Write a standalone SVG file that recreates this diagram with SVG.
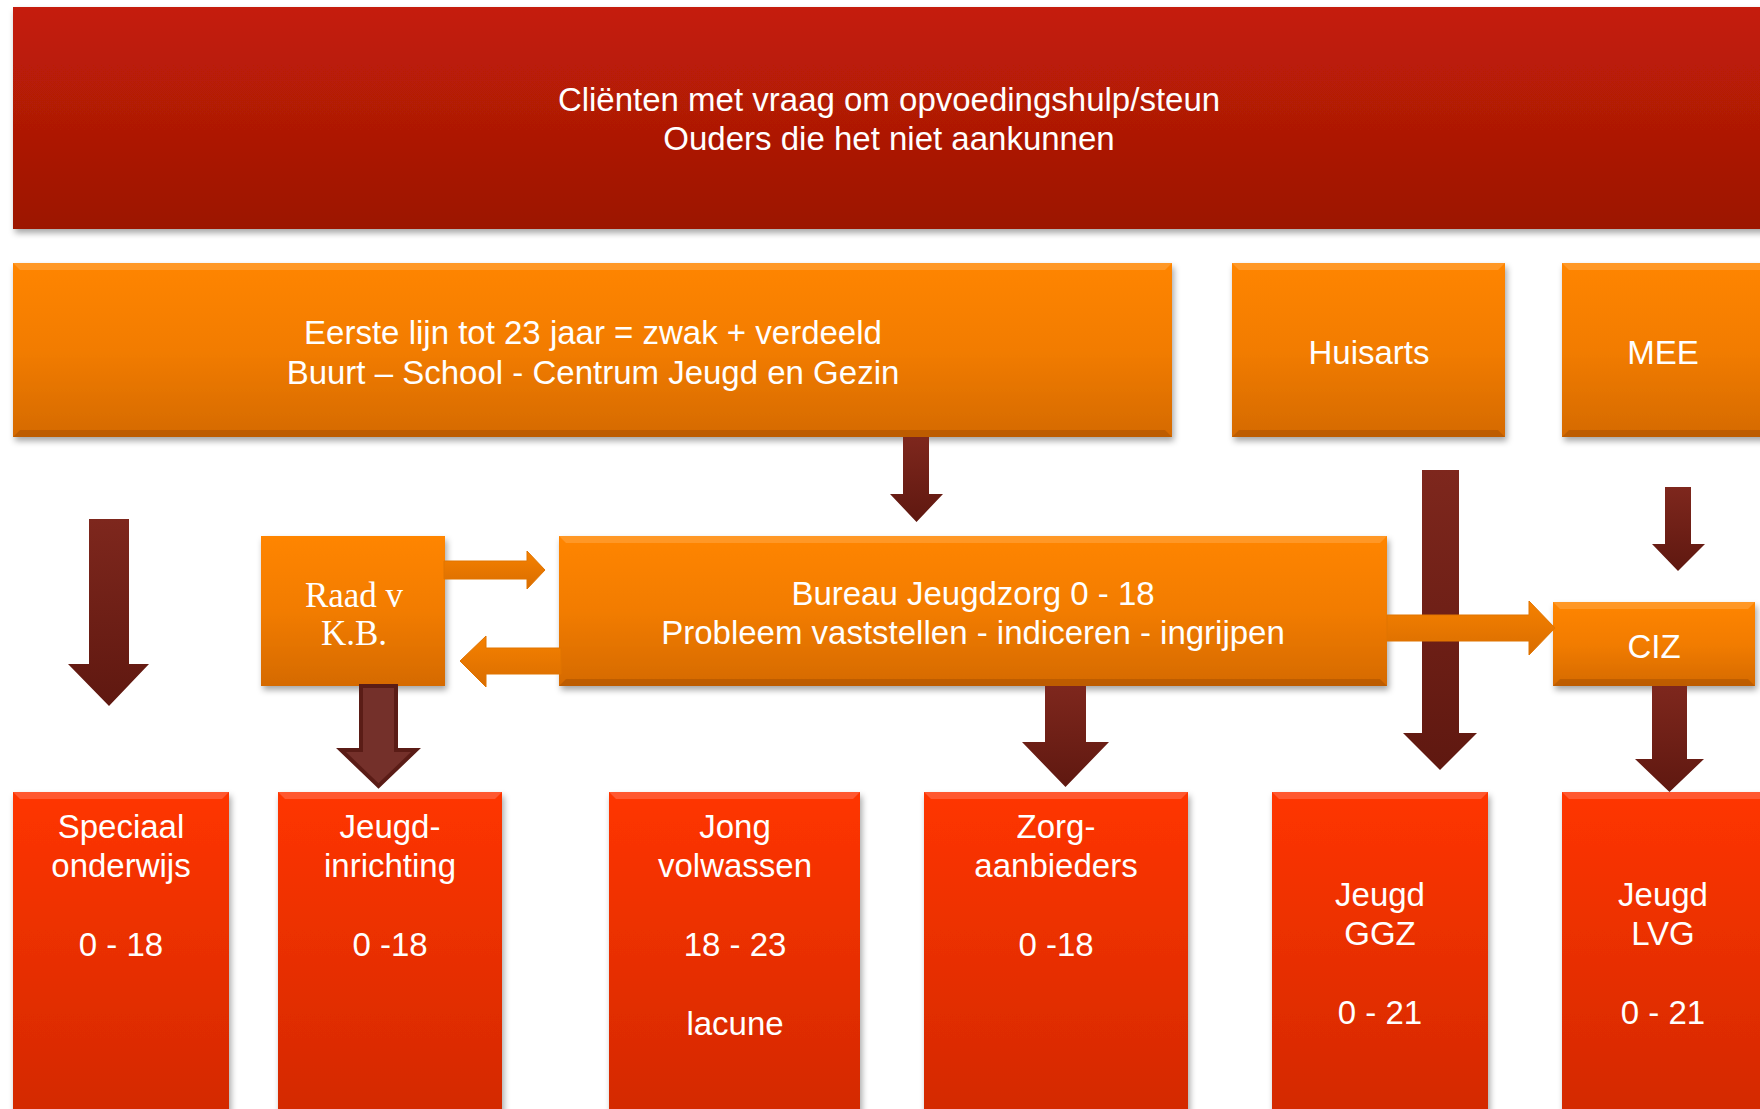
<svg xmlns="http://www.w3.org/2000/svg" width="1760" height="1109" viewBox="0 0 1760 1109">
<defs>
<linearGradient id="gRed" x1="0" y1="0" x2="0" y2="1"><stop offset="0" stop-color="#C51E08"/><stop offset="1" stop-color="#9C1504"/></linearGradient>
<linearGradient id="gOrange" x1="0" y1="0" x2="0" y2="1"><stop offset="0" stop-color="#FF8500"/><stop offset="0.5" stop-color="#F27C00"/><stop offset="1" stop-color="#D56A00"/></linearGradient>
<linearGradient id="gBottom" x1="0" y1="0" x2="0" y2="1"><stop offset="0" stop-color="#FF3500"/><stop offset="1" stop-color="#D22900"/></linearGradient>
<linearGradient id="gDark" x1="0" y1="0" x2="0" y2="1"><stop offset="0" stop-color="#7E271D"/><stop offset="1" stop-color="#5F1810"/></linearGradient>
<linearGradient id="gOrArrow" x1="0" y1="0" x2="0" y2="1"><stop offset="0" stop-color="#F68100"/><stop offset="1" stop-color="#D96D00"/></linearGradient>
<filter id="shadow" x="-5%" y="-5%" width="110%" height="120%"><feDropShadow dx="2" dy="4" stdDeviation="3" flood-color="#000" flood-opacity="0.35"/></filter>
</defs>
<style>
.banner{fill:url(#gRed);filter:url(#shadow);}
.obox{fill:url(#gOrange);filter:url(#shadow);}
.rbox{fill:url(#gBottom);filter:url(#shadow);}
.hi{fill:#FFA845;opacity:0.55;}
.lo{fill:#A04C00;opacity:0.45;}
.rhi{fill:#FF7050;opacity:0.6;}
.dark{fill:url(#gDark);}
.darko{fill:#74302A;stroke:#5A1C16;stroke-width:4;stroke-linejoin:miter;}
.orar{fill:url(#gOrArrow);stroke:#E07400;stroke-width:1;}
text{font-family:"Liberation Sans",Arial,sans-serif;font-size:33px;fill:#FFFFFF;text-anchor:middle;}
.serif{font-family:"Liberation Serif","Times New Roman",serif;font-size:35px;}
</style>
<rect width="1760" height="1109" fill="#FFFFFF"/>

<g id="node-clienten">
<rect class="banner" x="13" y="7" width="1760" height="222"/>
<text x="889" y="111">Cliënten met vraag om opvoedingshulp/steun</text>
<text x="889" y="150">Ouders die het niet aankunnen</text>
</g>

<g id="node-eerste-lijn">
<rect class="obox" x="13" y="263" width="1159" height="174"/>
<polygon class="hi" points="13,263 1172,263 1165,270 20,270"/>
<polygon class="lo" points="13,437 1172,437 1165,430 20,430"/>
<text x="593" y="344">Eerste lijn tot 23 jaar = zwak + verdeeld</text>
<text x="593" y="384">Buurt – School - Centrum Jeugd en Gezin</text>
</g>

<g id="node-huisarts">
<rect class="obox" x="1232" y="263" width="273" height="174"/>
<polygon class="hi" points="1232,263 1505,263 1498,270 1239,270"/>
<polygon class="lo" points="1232,437 1505,437 1498,430 1239,430"/>
<text x="1369" y="364">Huisarts</text>
</g>

<g id="node-mee">
<rect class="obox" x="1562" y="263" width="210" height="174"/>
<polygon class="hi" points="1562,263 1772,263 1765,270 1569,270"/>
<polygon class="lo" points="1562,437 1772,437 1765,430 1569,430"/>
<text x="1663" y="364">MEE</text>
</g>

<g id="node-raad">
<rect class="obox" x="261" y="536" width="184" height="150"/>
<text class="serif" x="354" y="607">Raad v</text>
<text class="serif" x="354" y="645">K.B.</text>
</g>

<g id="node-bureau">
<rect class="obox" x="559" y="536" width="828" height="150"/>
<polygon class="hi" points="559,536 1387,536 1380,543 566,543"/>
<polygon class="lo" points="559,686 1387,686 1380,679 566,679"/>
<text x="973" y="605">Bureau Jeugdzorg 0 - 18</text>
<text x="973" y="644">Probleem vaststellen - indiceren - ingrijpen</text>
</g>

<g id="node-ciz">
<rect class="obox" x="1553" y="602" width="202" height="84"/>
<polygon class="hi" points="1553,602 1755,602 1748,609 1560,609"/>
<polygon class="lo" points="1553,686 1755,686 1748,679 1560,679"/>
<text x="1654" y="658">CIZ</text>
</g>

<g id="node-speciaal">
<rect class="rbox" x="13" y="792" width="216" height="330"/>
<polygon class="rhi" points="13,792 229,792 222,799 20,799"/>
<text x="121" y="838">Speciaal</text>
<text x="121" y="877">onderwijs</text>
<text x="121" y="956">0 - 18</text>
</g>

<g id="node-jeugdinrichting">
<rect class="rbox" x="278" y="792" width="224" height="330"/>
<polygon class="rhi" points="278,792 502,792 495,799 285,799"/>
<text x="390" y="838">Jeugd-</text>
<text x="390" y="877">inrichting</text>
<text x="390" y="956">0 -18</text>
</g>

<g id="node-jong">
<rect class="rbox" x="609" y="792" width="251" height="330"/>
<polygon class="rhi" points="609,792 860,792 853,799 616,799"/>
<text x="735" y="838">Jong</text>
<text x="735" y="877">volwassen</text>
<text x="735" y="956">18 - 23</text>
<text x="735" y="1035">lacune</text>
</g>

<g id="node-zorg">
<rect class="rbox" x="924" y="792" width="264" height="330"/>
<polygon class="rhi" points="924,792 1188,792 1181,799 931,799"/>
<text x="1056" y="838">Zorg-</text>
<text x="1056" y="877">aanbieders</text>
<text x="1056" y="956">0 -18</text>
</g>

<g id="node-ggz">
<rect class="rbox" x="1272" y="792" width="216" height="330"/>
<polygon class="rhi" points="1272,792 1488,792 1481,799 1279,799"/>
<text x="1380" y="906">Jeugd</text>
<text x="1380" y="945">GGZ</text>
<text x="1380" y="1024">0 - 21</text>
</g>

<g id="node-lvg">
<rect class="rbox" x="1562" y="792" width="210" height="330"/>
<polygon class="rhi" points="1562,792 1772,792 1765,799 1569,799"/>
<text x="1663" y="906">Jeugd</text>
<text x="1663" y="945">LVG</text>
<text x="1663" y="1024">0 - 21</text>
</g>

<g id="connectors">
<polygon class="dark" points="903,437 929,437 929,494 943,494 916.5,522 890,494 903,494"/>
<polygon class="dark" points="89,519 129,519 129,664 149,664 109,706 68,664 89,664"/>
<polygon class="darko" points="361,686 396,686 396,750 416,750 378.5,786 341,750 361,750"/>
<polygon class="dark" points="1045,686 1086,686 1086,742 1109,742 1065.5,787 1022,742 1045,742"/>
<polygon class="dark" points="1422,470 1459,470 1459,733 1477,733 1440,770 1403,733 1422,733"/>
<polygon class="dark" points="1665,487 1691,487 1691,544 1705,544 1678,571 1652,544 1665,544"/>
<polygon class="dark" points="1652,686 1687,686 1687,759 1704,759 1669.5,792 1635,759 1652,759"/>
<polygon class="orar" points="444,561 527,561 527,551 545,570 527,589 527,579 444,579"/>
<polygon class="orar" points="561,648 486,648 486,636 460,661 486,687 486,674 561,674"/>
<polygon class="orar" points="1387,615 1529,615 1529,601 1555,628 1529,655 1529,641 1387,641"/>
</g>
</svg>
